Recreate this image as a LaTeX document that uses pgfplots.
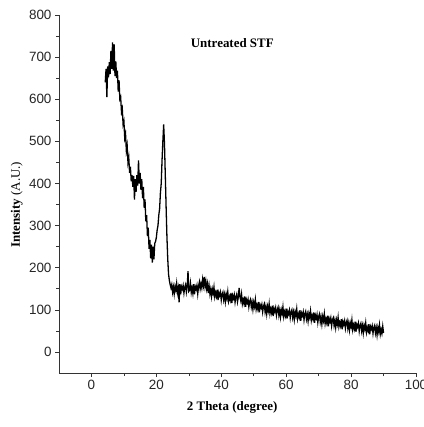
\documentclass[border=0pt]{standalone}
\usepackage{fontspec}
\setmainfont{Liberation Serif}
\setsansfont{Liberation Sans}
\usepackage{pgfplots}
\pgfplotsset{compat=1.18}

\begin{document}
\begin{tikzpicture}
\begin{axis}[
    scale only axis,
    width=357bp, height=358bp,
    xmin=-10, xmax=100,
    ymin=-50, ymax=800,
    axis x line=bottom, axis y line=left,
    axis line style={-, black!80, line width=0.6pt},
    tick align=outside,
    xtick={0,20,40,60,80,100},
    ytick={0,100,...,800},
    minor x tick num=1, minor y tick num=1,
    major tick length=4bp, minor tick length=3bp,
    tick style={black!80, line width=0.6pt},
    /pgf/number format/assume math mode=true,
    tick label style={font=\sffamily\fontsize{13.5}{14}\selectfont, black!85},
    ylabel={\textbf{Intensity} (A.U.)},
    ylabel style={font=\fontsize{13}{15}\selectfont, at={(rel axis cs:-0.118,0.47)}, anchor=center},
    clip=false,
]
\addplot[black, line width=1.3pt, no marks] coordinates {
(4.25,640) (4.5,672) (4.75,605) (5.0,678) (5.25,652) (5.5,688) (5.75,660) (6.0,715) (6.25,672) (6.5,735) (6.75,668) (7.0,730) (7.25,655) (7.5,690) (7.75,650) (8.0,668) (8.25,618) (8.5,645)
(8.75,600) (9.0,605) (9.25,570) (9.5,578) (9.75,540) (10.0,548) (10.25,508) (10.5,518) (10.75,478) (11.0,490) (11.25,450) (11.5,462) (11.75,425) (12.0,440) (12.25,405) (12.5,420)
(12.75,392) (13.0,418) (13.25,362) (13.5,410) (13.75,380) (14.0,420) (14.25,395) (14.5,455) (14.75,400) (15.0,425) (15.25,385) (15.5,410)
(15.75,365) (16.0,392) (16.25,342) (16.5,362) (16.75,310) (17.0,325) (17.25,275) (17.5,295) (17.75,245) (18.0,266) (18.25,222) (18.5,255) (18.75,212) (19.0,250) (19.25,220) (19.5,258)
(19.75,262) (20.0,272) (20.25,290) (20.5,300) (20.75,325) (21.0,340) (21.25,378) (21.5,400) (21.75,455) (22.0,500) (22.25,540) (22.5,495) (22.75,420) (23.0,345) (23.25,275) (23.5,222) (23.75,185) (24.0,170) (24.25,160) (24.5,152)
(24.75,160) (25.0,142) (25.25,154) (25.5,138) (25.75,156) (26.0,147) (26.25,163) (26.5,141) (26.75,152) (27.0,118) (27.25,161) (27.5,137) (27.75,155) (28.0,149) (28.25,158) (28.5,140) (28.75,154) (29.0,160) (29.25,142) (29.5,154) (29.75,192) (30.0,144) (30.25,147) (30.5,163) (30.75,141) (31.0,152) (31.25,139) (31.5,161) (31.75,137) (32.0,155) (32.25,149) (32.5,158) (32.75,138) (33.0,156)
(33.25,166) (33.5,150) (33.75,162) (34.0,152) (34.25,172) (34.5,158) (34.75,178) (35.0,155) (35.25,168) (35.5,150) (35.75,162) (36.0,140)
(36.25,157) (36.5,138) (36.75,149) (37.0,132) (37.25,149) (37.5,139) (37.75,154) (38.0,131)
(38.25,141) (38.5,132) (38.75,148) (39.0,123) (39.25,141) (39.5,134) (39.75,142) (40.0,123)
(40.25,137) (40.5,142) (40.75,124) (41.0,136) (41.25,119) (41.5,137) (41.75,127) (42.0,143)
(42.25,121) (42.5,131) (42.75,123) (43.0,140) (43.25,116) (43.5,134) (43.75,127) (44.0,136)
(44.25,118) (44.5,131) (44.75,137) (45.0,119) (45.25,130) (45.5,152) (45.75,132) (46.0,122)
(46.25,137) (46.5,114) (46.75,124) (47.0,115) (47.25,132) (47.5,107) (47.75,124) (48.0,117)
(48.25,125) (48.5,107) (48.75,120) (49.0,125) (49.25,107) (49.5,118) (49.75,101) (50.0,118)
(50.25,108) (50.5,124) (50.75,101) (51.0,111) (51.25,102) (51.5,119) (51.75,94) (52.0,111)
(52.25,105) (52.5,113) (52.75,95) (53.0,108) (53.25,114) (53.5,95) (53.75,107) (54.0,90)
(54.25,108) (54.5,98) (54.75,114) (55.0,91) (55.25,102) (55.5,93) (55.75,110) (56.0,85)
(56.25,103) (56.5,96) (56.75,105) (57.0,87) (57.25,100) (57.5,106) (57.75,87) (58.0,99)
(58.25,83) (58.5,100) (58.75,91) (59.0,107) (59.25,84) (59.5,95) (59.75,86) (60.0,103)
(60.25,79) (60.5,96) (60.75,90) (61.0,99) (61.25,81) (61.5,95) (61.75,100) (62.0,82)
(62.25,94) (62.5,77) (62.75,95) (63.0,86) (63.25,102) (63.5,79) (63.75,90) (64.0,82)
(64.25,99) (64.5,74) (64.75,92) (65.0,86) (65.25,95) (65.5,76) (65.75,90) (66.0,96)
(66.25,78) (66.5,89) (66.75,73) (67.0,91) (67.25,82) (67.5,97) (67.75,75) (68.0,86)
(68.25,78) (68.5,94) (68.75,69) (69.0,87) (69.25,80) (69.5,89) (69.75,70) (70.0,84)
(70.25,90) (70.5,71) (70.75,83) (71.0,66) (71.25,84) (71.5,74) (71.75,90) (72.0,67)
(72.25,78) (72.5,69) (72.75,86) (73.0,61) (73.25,79) (73.5,72) (73.75,81) (74.0,62)
(74.25,76) (74.5,81) (74.75,63) (75.0,75) (75.25,58) (75.5,76) (75.75,66) (76.0,82)
(76.25,60) (76.5,70) (76.75,62) (77.0,78) (77.25,54) (77.5,72) (77.75,65) (78.0,74)
(78.25,56) (78.5,69) (78.75,75) (79.0,56) (79.25,68) (79.5,52) (79.75,69) (80.0,60)
(80.25,76) (80.5,53) (80.75,64) (81.0,55) (81.25,72) (81.5,48) (81.75,65) (82.0,59)
(82.25,68) (82.5,49) (82.75,63) (83.0,68) (83.25,50) (83.5,62) (83.75,45) (84.0,63)
(84.25,54) (84.5,69) (84.75,47) (85.0,58) (85.25,50) (85.5,66) (85.75,42) (86.0,60)
(86.25,54) (86.5,62) (86.75,44) (87.0,58) (87.25,63) (87.5,45) (87.75,57) (88.0,40)
(88.25,58) (88.5,48) (88.75,64) (89.0,42) (89.25,53) (89.5,44) (89.75,61) (90.0,45)
};
\node[font=\bfseries\fontsize{13}{15}\selectfont] at (axis cs:43.4,733) {Untreated STF};
\node[font=\bfseries\fontsize{13}{15}\selectfont] at (rel axis cs:0.485,-0.095) {2 Theta (degree)};
\end{axis}
\pgfresetboundingbox
\useasboundingbox (current axis.south west) ++(-59bp,-54bp) rectangle ++(424bp,427bp);
\end{tikzpicture}
\end{document}
